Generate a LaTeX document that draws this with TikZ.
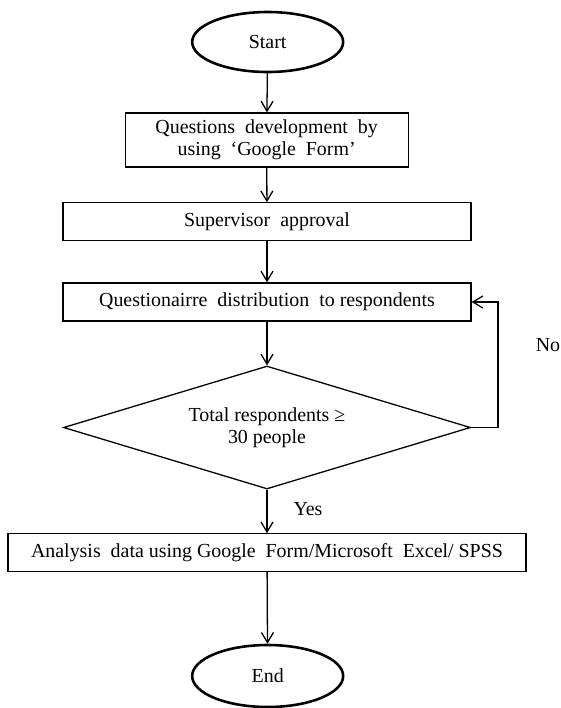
\documentclass[tikz,border=0pt]{standalone}
\usepackage{fontspec}
\setmainfont{Liberation Serif}
\usepackage{tikz}
\usetikzlibrary{arrows.meta,shapes.geometric,positioning}

\begin{document}
\begin{tikzpicture}[
    font=\fontsize{17pt}{19pt}\selectfont,
    terminal/.style={ellipse,draw,line width=2.2pt,minimum width=4.53cm,minimum height=1.8cm,inner sep=0pt},
    process/.style={rectangle,draw,line width=1.1pt,minimum width=12.24cm,minimum height=1.12cm,inner sep=0pt,align=center},
    decision/.style={diamond,draw,line width=1.1pt,minimum width=12.21cm,minimum height=3.69cm,aspect=3.31,inner sep=0pt,align=center},
    flow/.style={draw,line width=1.1pt,-{Straight Barb[length=0.3cm,width=0.36cm]}},
    ]
    \useasboundingbox (0,0) rectangle (16.83,-21.24);
    \node[terminal] (start) at (8.03,-1.26) {Start};
    \node[process,minimum width=8.49cm,minimum height=1.62cm] (quest) at (8.0,-4.2) {Questions\ \ development\ \ by\\using\ \ `Google\ \ Form'};
    \node[process] (approve) at (8.01,-6.645) {Supervisor\ \ approval};
    \node[process,minimum height=1.14cm] (dist) at (8.01,-9.06) {Questionairre\ \ distribution\ \ to respondents};
    \node[decision] (check) at (8.01,-12.825) {Total respondents ≥\\30 people};
    \node[process,minimum width=15.54cm] (analyse) at (8.01,-16.575) {Analysis\ \ data using Google\ \ Form/Microsoft\ \ Excel/\ SPSS};
    \node[terminal,minimum height=1.86cm] (stop) at (8.03,-20.28) {End};
    \coordinate (turn) at (14.94,-12.825);
    \node (yes) at (9.24,-15.27) {Yes};
    \node (no) at (16.44,-10.35) {No};

    \draw[flow] (start) -- (quest);
    \draw[flow] (quest) -- (approve);
    \draw[flow] (approve) -- (dist);
    \draw[flow] (dist) -- (check);
    \draw[flow] (check) -- (analyse);
    \draw[flow] (analyse) -- (stop);
    % loop back when too few answers
    \draw[flow] (check.east) -- (turn) |- (dist.east);
\end{tikzpicture}
\end{document}
